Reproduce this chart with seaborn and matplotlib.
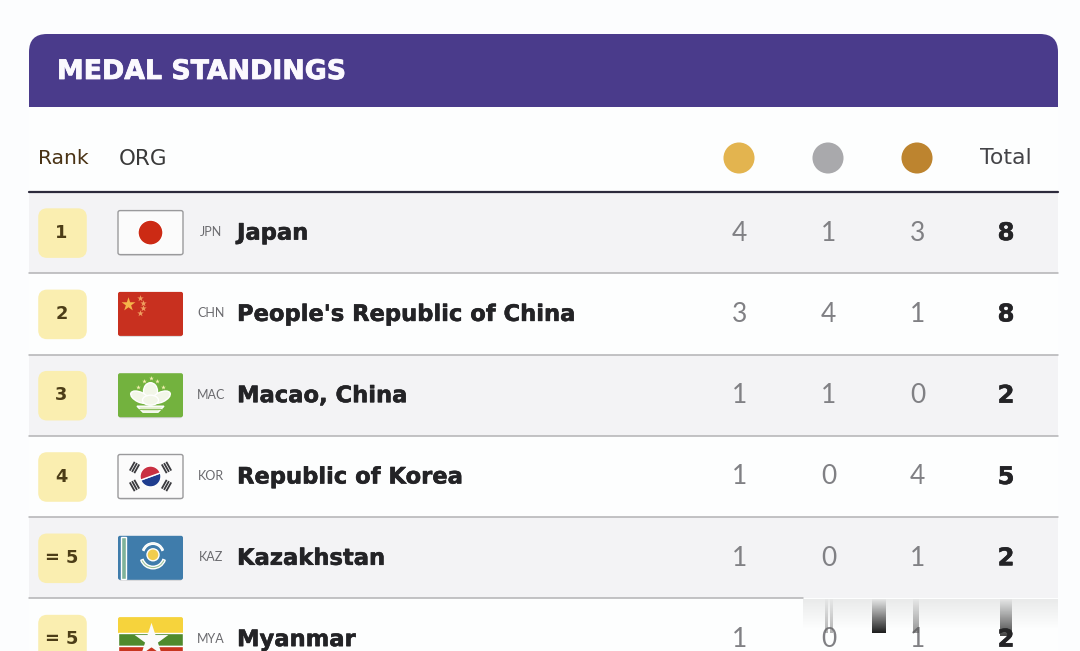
import numpy as np
import pandas as pd
import matplotlib
matplotlib.use("Agg")
import matplotlib.pyplot as plt
import matplotlib.patheffects as pe
from matplotlib.patches import FancyBboxPatch, Rectangle, Circle, Polygon, Wedge, Ellipse
import seaborn as sns

title = "MEDAL STANDINGS"
ranks = ["1", "2", "3", "4", "= 5", "= 5"]
codes = ["JPN", "CHN", "MAC", "KOR", "KAZ", "MYA"]
names = ["Japan", "People's Republic of China", "Macao, China", "Republic of Korea", "Kazakhstan", "Myanmar"]
gold = [4, 3, 1, 1, 1, 1]
silver = [1, 4, 1, 0, 0, 0]
bronze = [3, 1, 0, 4, 1, 1]
total = [8, 8, 2, 5, 2, 2]
medal_colors = ["#e3b44f", "#a9a9ac", "#bd842f"]

sns.set_theme(style="white")
plt.rcParams["font.family"] = ["Lato", "DejaVu Sans"]
W, H = 1080, 651
BG = "#fcfdfe"
fig = plt.figure(figsize=(W / 100, H / 100), dpi=100, facecolor=BG)
ax = fig.add_axes([0, 0, 1, 1])
ax.set_xlim(0, W); ax.set_ylim(H, 0); ax.axis("off")

Y0, DY = 232.6, 81.3
cy = [Y0 + DY * i for i in range(len(names))]
cols = [739.5, 828.5, 917.5, 1006]
DJ = "DejaVu Sans"

def heavy(color, w):
    return [pe.withStroke(linewidth=w, foreground=color)]

# panel and header
ax.add_patch(FancyBboxPatch((29, 34), 1029, 120, boxstyle="round,pad=0,rounding_size=18",
                            fc="#4a3b8b", ec="none", zorder=1))
ax.add_patch(Rectangle((29, 107), 1029, 560, fc="#fdfefe", ec="none", zorder=1.1))
ax.text(57, 72, title, color="#fbf9fe", fontsize=19.3, fontweight="bold", family=DJ,
        va="center", ha="left", zorder=3, path_effects=heavy("#fbf9fe", 0.6))

# column headers
ax.text(38, 158.5, "Rank", color="#4a3315", fontsize=14.6, family=DJ, va="center", zorder=3)
ax.text(119, 159, "ORG", color="#3a3a3a", fontsize=15.4, family=DJ, va="center", zorder=3)
ax.text(1006, 158.5, "Total", color="#444448", fontsize=15.8, family=DJ, va="center", ha="center", zorder=3)
hdr = pd.DataFrame({"x": [739, 828, 917], "y": [158] * 3, "m": ["g", "s", "b"]})
sns.scatterplot(data=hdr, x="x", y="y", hue="m", palette=medal_colors, s=500, linewidth=0,
                legend=False, ax=ax, zorder=3)
ax.set_xlim(0, W); ax.set_ylim(H, 0); ax.axis("off")
ax.plot([29, 1058], [191.5, 191.5], color="#2c2a3c", lw=1.6, zorder=3)

# rows
for i, y in enumerate(cy):
    top = y - DY / 2
    if i % 2 == 0:
        ax.add_patch(Rectangle((29, top), 1029, DY, fc="#f3f3f5", ec="none", zorder=1.5))
    if i < 5:
        ax.plot([29, 1058 if i < 4 else 803], [top + DY] * 2, color="#b2b2b4", lw=1.1, zorder=2)
    ax.add_patch(FancyBboxPatch((41, y - 21.5), 43, 44, boxstyle="round,pad=0,rounding_size=6",
                                fc="#faeeb0", ec="#faeeb0", lw=4, zorder=2.5))
    ax.text(61.5, y, ranks[i], color="#4c3d17", fontsize=12.8, fontweight="bold", ha="center", va="center",
            family=DJ, zorder=3)
    ax.text(211, y - 0.5, codes[i], color="#6a6a6e", fontsize=9, ha="center", va="center", zorder=3)
    ax.text(237, y + 0.5, names[i], color="#232326", fontsize=16.3, fontweight="bold", family=DJ,
            va="center", zorder=3, path_effects=heavy("#232326", 0.4))
    for x, v in zip(cols[:3], (gold[i], silver[i], bronze[i])):
        ax.text(x, y + 0.5, str(v), color="#808084", fontsize=19, ha="center", va="center", zorder=3)
    ax.text(cols[3], y + 0.5, str(total[i]), color="#232326", fontsize=17.5, fontweight="bold",
            family=DJ, ha="center", va="center", zorder=3, path_effects=heavy("#232326", 0.4))

def flag_box(y, fc, ec="none"):
    # soft drop shadow, then rounded flag
    ax.add_patch(FancyBboxPatch((119, y - 20), 63, 43, boxstyle="round,pad=0,rounding_size=2",
                                fc="#00000022", ec="none", zorder=2.55))
    return FancyBboxPatch((118, y - 22), 65, 44, boxstyle="round,pad=0,rounding_size=2",
                          fc=fc, ec=ec, lw=1.0, zorder=2.6)

# Japan
y = cy[0]
ax.add_patch(flag_box(y, "#fbfbfb", "#9a9a9c"))
ax.add_patch(Circle((150.5, y), 12.5, fc="#cc2a14", zorder=2.7))
# China
y = cy[1]
ax.add_patch(flag_box(y, "#c8301f"))
ax.scatter([128], [y - 10], marker="*", s=110, c="#f5b54a", linewidths=0, zorder=2.7)
ax.scatter([140, 143, 143, 140], [y - 16, y - 11, y - 6, y - 1], marker="*", s=24, c="#f0a060", linewidths=0, zorder=2.7)
# Macao
y = cy[2]
ax.add_patch(flag_box(y, "#73b23e"))
ax.add_patch(Ellipse((150.5, y - 4), 14, 17, fc="#f2f6e8", zorder=2.7))
ax.add_patch(Ellipse((140, y + 2), 20, 10, angle=25, fc="#f2f6e8", zorder=2.7))
ax.add_patch(Ellipse((161, y + 2), 20, 10, angle=-25, fc="#f2f6e8", zorder=2.7))
ax.add_patch(Ellipse((150.5, y + 5), 16, 10, fc="#f2f6e8", zorder=2.7))
ax.add_patch(Polygon([[137, y + 11], [164, y + 11], [158, y + 17], [143, y + 17]], fc="#e6f0d4", zorder=2.7))
ax.plot([139, 162], [y + 13.5] * 2, color="#8fc060", lw=0.8, zorder=2.8)
ax.scatter([138, 144, 150.5, 157, 163], [y - 8, y - 14, y - 17, y - 14, y - 8], marker="*", s=12,
           c="#f5f0b0", linewidths=0, zorder=2.7)
# Korea
y = cy[3]
ax.add_patch(flag_box(y, "#fbfbfb", "#9a9a9c"))
ax.add_patch(Wedge((150.5, y), 10.5, -20, 160, fc="#1f3d8f", zorder=2.7))
ax.add_patch(Wedge((150.5, y), 10.5, 160, 340, fc="#c93042", zorder=2.7))
for dx, dy in [(-16, -9), (16, -9), (-16, 9), (16, 9)]:
    u = np.array([dx, dy]) / np.hypot(dx, dy)
    v = np.array([-u[1], u[0]])
    for k in (-2.6, 0, 2.6):
        c = np.array([150.5 + dx, y + dy]) + k * u
        ax.plot([c[0] - 5 * v[0], c[0] + 5 * v[0]], [c[1] - 5 * v[1], c[1] + 5 * v[1]],
                color="#3a3a3e", lw=1.3, zorder=2.7, solid_capstyle="butt")
# Kazakhstan
y = cy[4]
ax.add_patch(flag_box(y, "#3f7cab"))
ax.add_patch(Rectangle((120.5, y - 21), 5, 42, fc="#7fb39a", zorder=2.7))
ax.add_patch(Circle((153, y - 3), 6, fc="#f1cd4e", zorder=2.8))
ax.add_patch(Wedge((153, y - 2), 13, 20, 160, width=2.5, fc="#9cc49a", zorder=2.7))
ax.add_patch(Wedge((153, y - 4), 11, 200, 340, width=1.5, fc="#9cc49a", zorder=2.7))
# Myanmar
y = cy[5]
ax.add_patch(flag_box(y, "#f6d33c"))
ax.add_patch(Rectangle((118, y - 6), 65, 13, fc="#4f8a2d", zorder=2.65))
ax.add_patch(Rectangle((118, y + 7), 65, 15, fc="#c8351f", zorder=2.65))
ax.scatter([150.5], [y + 1], marker="*", s=650, c="#fafafa", linewidths=0, zorder=2.7)

# scroll overlay: the KAZ row lifts over the last row, with a fading shadow and smeared digits
n = 32
rgba = np.zeros((n, 1, 4))
rgba[:, 0, 3] = np.linspace(0.08, 0, n)
ax.imshow(rgba, extent=(803, 1058, 630, 599), aspect="auto", zorder=3.3, interpolation="bilinear")
for x0, x1, c, a, yb in [(825, 828, 0.4, 0.5, 633), (830, 833, 0.4, 0.5, 633), (872, 886, 0.1, 0.98, 633),
                         (913, 919, 0.35, 0.65, 633), (1000, 1012, 0.15, 0.85, 636)]:
    n = 36
    s = np.zeros((n, 1, 4)); s[..., :3] = c
    s[:, 0, 3] = np.linspace(0.03, a, n)
    ax.imshow(s, extent=(x0, x1, yb, 599), aspect="auto", zorder=3.4, interpolation="bilinear")
ax.set_xlim(0, W); ax.set_ylim(H, 0)

fig.savefig("out.png", dpi=100, facecolor=fig.get_facecolor())
